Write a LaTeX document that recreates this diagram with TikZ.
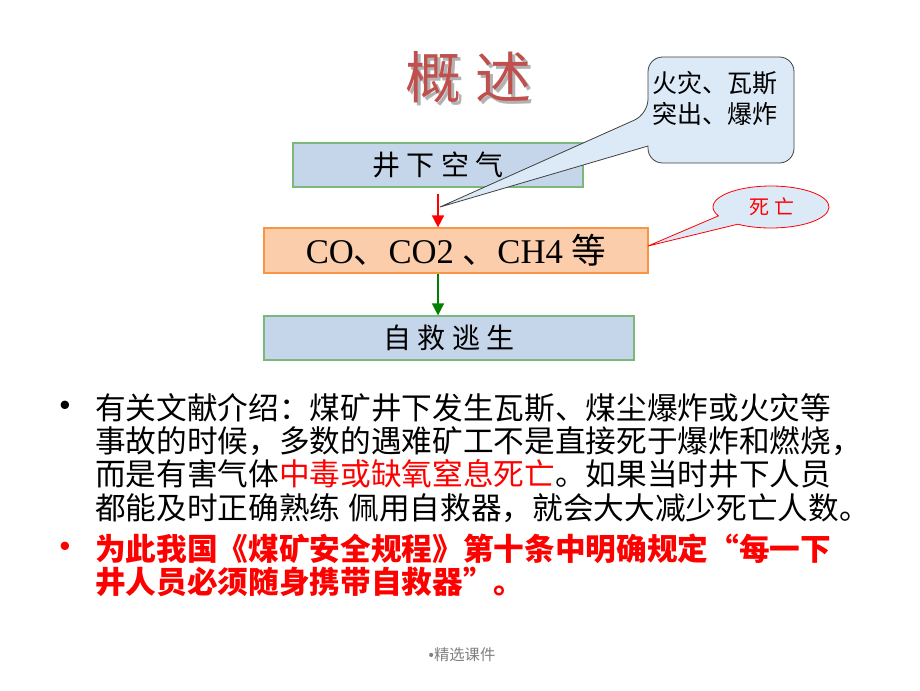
\documentclass[tikz,border=0pt]{standalone}
\usepackage{fontspec}
\setmainfont{Liberation Serif}
\newfontfamily\cjk{Noto Sans CJK SC}
\newfontfamily\bulletfont{Liberation Sans}
\usetikzlibrary{arrows.meta}
\definecolor{titlered}{HTML}{C0504D}
\definecolor{boxblue}{HTML}{C6D6EA}
\definecolor{boxgreen}{HTML}{7AB97A}
\definecolor{peach}{HTML}{FCCDAB}
\definecolor{orangeb}{HTML}{F79646}
\definecolor{callblue}{HTML}{DCEAF8}
\definecolor{darkgreen}{HTML}{008000}
\definecolor{footgray}{HTML}{7F7F7F}
\tikzset{
  flowbox/.style={draw=boxgreen, fill=boxblue, line width=0.9pt, inner sep=0pt,
    font=\cjk\fontsize{21}{21}\selectfont},
  gasbox/.style={draw=orangeb, fill=peach, line width=0.9pt, inner sep=0pt,
    font=\fontsize{26}{26}\selectfont},
  bodyline/.style={anchor=west, inner sep=0pt, font=\cjk\fontsize{23}{23}\selectfont},
  bulletmark/.style={inner sep=0pt, font=\bulletfont\fontsize{23}{23}\selectfont},
  redarrow/.style={draw=red, line width=1.1pt, -{Triangle[width=9pt,length=9pt]}},
  greenarrow/.style={draw=darkgreen, line width=1.1pt, -{Triangle[width=9pt,length=9pt]}},
  calloutone/.style={draw=black!75, fill=callblue, line width=0.6pt, line join=round},
  callouttwo/.style={draw=red, fill=callblue, line width=0.6pt, line join=round},
  callouttext/.style={anchor=west, inner sep=0pt, font=\cjk\fontsize{18.75}{18.75}\selectfont},
}
\begin{document}
\begin{tikzpicture}[x=0.75pt,y=-0.75pt]
\useasboundingbox[fill=white] (0,0) rectangle (920,690);

% title with shadow
\node[inner sep=0pt, text=black!30, font=\cjk\fontsize{42}{42}\selectfont] (titleshadow) at (471,80) {概\hspace{10.5pt}述};
\node[inner sep=0pt, text=titlered, font=\cjk\fontsize{42}{42}\selectfont] (title) at (468,77) {概\hspace{10.5pt}述};

% flow boxes
\node[flowbox, minimum width=217.5pt, minimum height=33pt] (b1) at (438,165) {井\hspace{5pt}下\hspace{5pt}空\hspace{5pt}气};
\node[gasbox, minimum width=288pt, minimum height=33.75pt] (b2) at (456,250.5) {CO{\cjk 、}CO2 {\cjk 、}CH4 {\cjk 等}};
\node[flowbox, minimum width=277.5pt, minimum height=33pt] (b3) at (449,338) {自\hspace{5pt}救\hspace{5pt}逃\hspace{5pt}生};

% arrows
\draw[redarrow] ([yshift=-4.5pt]b1.south) -- (b1.south |- b2.north);
\draw[greenarrow] (b1.south |- b2.south) -- (b1.south |- b3.north);

% callout 1
\coordinate (tipone) at (440,207);
\draw[calloutone] (721,57) [rounded corners=11pt] -- (648,57) -- (648,114) [sharp corners] -- (tipone) -- (648,146) [rounded corners=11pt] -- (648,163) -- (794,163) -- (794,57) -- cycle;
\node[callouttext] (c1a) at (652,83) {火灾、瓦斯};
\node[callouttext] (c1b) at (652,114) {突出、爆炸};

% callout 2
\coordinate (tiptwo) at (648,246);
\draw[callouttwo] (tiptwo) -- (737.7,224.2) arc[start angle=235, end angle=565, x radius=43.5pt, y radius=15.75pt] -- cycle;
\node[inner sep=0pt, text=red, font=\cjk\fontsize{15}{15}\selectfont] (c2) at (772,207) {死\hspace{4pt}亡};

% bullet text
\node[bulletmark] (bu1) at (65,408) {•};
\node[bodyline] (l1) at (95,408) {有关文献介绍：煤矿井下发生瓦斯、煤尘爆炸或火灾等};
\node[bodyline] (l2) at (95,441) {事故的时候，多数的遇难矿工不是直接死于爆炸和燃烧，};
\node[bodyline] (l3) at (95,474) {而是有害气体\textcolor{red}{中毒或缺氧窒息死亡}。如果当时井下人员};
\node[bodyline] (l4) at (95,508) {都能及时正确熟练\hspace{6pt}佩用自救器，就会大大减少死亡人数。};

\node[bulletmark, text=red] (bu2) at (65,549) {•};
\node[bodyline, text=red, font=\cjk\bfseries\fontsize{23}{23}\selectfont] (l5) at (95,549) {为此我国《煤矿安全规程》第十条中明确规定“每一下};
\node[bodyline, text=red, font=\cjk\bfseries\fontsize{23}{23}\selectfont] (l6) at (95,582) {井人员必须随身携带自救器”。};

% footer
\node[inner sep=0pt, text=footgray, font=\cjk\fontsize{11.5}{11.5}\selectfont] (foot) at (462,655) {{\bulletfont •}精选课件};
\end{tikzpicture}
\end{document}
